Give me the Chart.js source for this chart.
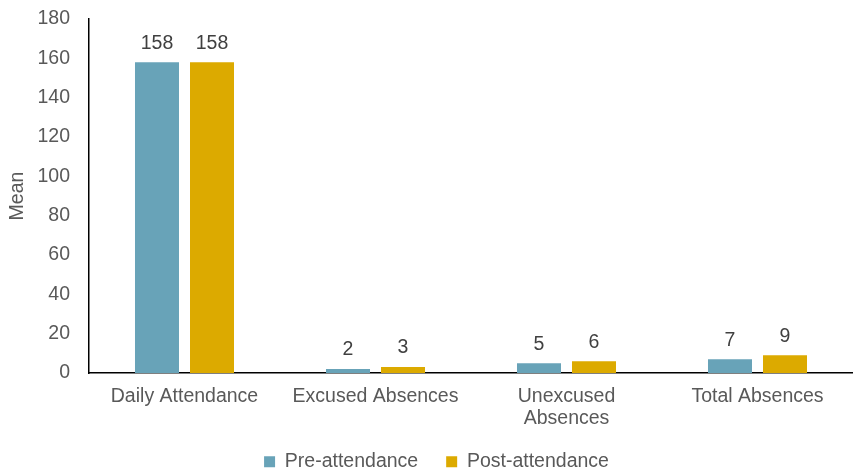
<!DOCTYPE html>
<html>
<head>
<meta charset="utf-8">
<script src="https://cdn.jsdelivr.net/npm/chart.js@4/dist/chart.umd.min.js"></script>
<style>
  html, body { margin: 0; padding: 0; background: #fff; }
  #wrap { width: 853px; height: 470px; }
</style>
</head>
<body>
<div id="wrap"><canvas id="c" width="853" height="470"></canvas></div>
<script>
const categories = ['Daily Attendance', 'Excused Absences', ['Unexcused', 'Absences'], 'Total Absences'];
const preAttendance = [158, 2, 5, 7];
const postAttendance = [158, 3, 6, 9];
const yTicks = [0, 20, 40, 60, 80, 100, 120, 140, 160, 180];

const FONT = "'Liberation Sans', Arial, sans-serif";
const SIZE = 19.5;
const TEXT = '#595959';

// Writes each bar's value just above it
const valueLabels = {
  id: 'valueLabels',
  afterDatasetsDraw(chart) {
    const ctx = chart.ctx;
    ctx.save();
    ctx.font = SIZE + 'px ' + FONT;
    ctx.fillStyle = '#404040';
    ctx.textAlign = 'center';
    ctx.textBaseline = 'middle';
    chart.data.datasets.forEach((ds, i) => {
      chart.getDatasetMeta(i).data.forEach((bar, j) => {
        ctx.fillText(String(ds.data[j]), bar.x, bar.y - 19);
      });
    });
    ctx.restore();
  }
};

// Centres the legend under the plot area rather than the whole canvas
const legendShift = {
  id: 'legendShift',
  afterLayout(chart) {
    const lg = chart.legend;
    if (lg) { lg.left += 7; lg.right += 7; }
  }
};

new Chart(document.getElementById('c'), {
  type: 'bar',
  data: {
    labels: categories,
    datasets: [
      { label: 'Pre-attendance', data: preAttendance, backgroundColor: '#68A3B8' },
      { label: 'Post-attendance', data: postAttendance, backgroundColor: '#DCAA00' }
    ]
  },
  options: {
    responsive: false,
    animation: false,
    devicePixelRatio: 1,
    layout: { padding: { top: 19, right: 0, left: 6, bottom: 0 } },
    datasets: { bar: { categoryPercentage: 0.576, barPercentage: 0.8 } },
    scales: {
      x: {
        grid: { display: false, drawTicks: false },
        border: { display: true, color: '#000', width: 1.5 },
        ticks: { color: TEXT, font: { family: FONT, size: SIZE, lineHeight: 1.13 }, padding: 13, maxRotation: 0 },
        afterFit(s) { s.height = 51; }
      },
      y: {
        min: 0, max: 180,
        afterBuildTicks(s) { s.ticks = yTicks.map(v => ({ value: v })); },
        // ticks are hidden; their length only sets the label gap from the axis
        grid: { display: false, drawTicks: true, tickLength: 19 },
        border: { display: true, color: '#000', width: 1.5 },
        ticks: { color: TEXT, font: { family: FONT, size: SIZE }, padding: 0 },
        title: { display: true, text: 'Mean', color: TEXT, font: { family: FONT, size: SIZE }, padding: 0 },
        afterFit(s) { s.width = 83; }
      }
    },
    plugins: {
      legend: {
        position: 'bottom',
        maxHeight: 46,
        labels: {
          color: TEXT, font: { family: FONT, size: SIZE },
          boxWidth: 11, boxHeight: 11, padding: 28
        }
      },
      tooltip: { enabled: false }
    }
  },
  plugins: [valueLabels, legendShift]
});
</script>
</body>
</html>
